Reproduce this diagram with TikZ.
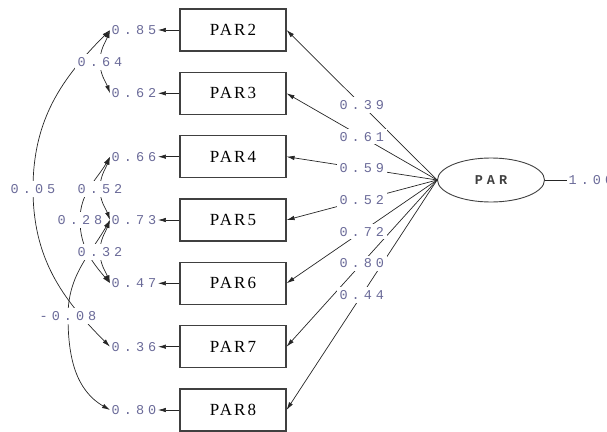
\documentclass[tikz,border=0pt]{standalone}
\usepackage{fontspec}
\usetikzlibrary{arrows.meta,shapes.geometric}
\newfontfamily\numfont[LetterSpace=30]{Liberation Mono}
\newfontfamily\boxfont[LetterSpace=12]{Liberation Serif}
\definecolor{numcol}{rgb}{0.42,0.42,0.6}
\tikzset{
  obs/.style={draw=black!75, line width=1.1pt, minimum width=106pt, minimum height=42pt, inner sep=0pt, font=\boxfont\fontsize{17}{19}\selectfont},
  err/.style={text=numcol, font=\numfont\fontsize{13.5}{15}\selectfont, inner sep=1.5pt},
  lab/.style={err, fill=white, inner sep=3pt},
  tipa/.tip={Latex[length=8pt,width=4.5pt]},
  arr/.style={-tipa, line width=0.7pt, draw=black!85},
  cov/.style={tipa-tipa, line width=0.7pt, draw=black!85},
}
\begin{document}
\begin{tikzpicture}[x=1pt,y=-1pt]
\useasboundingbox (0,0) rectangle (607,431);
% observed variables and error variances
\foreach \n/\y/\e in {2/30/0.85,3/93.3/0.62,4/156.7/0.66,5/220/0.73,6/283.3/0.47,7/346.7/0.36,8/410/0.80}{
  \node[obs] (P\n) at (233,\y) {PAR\n};
  \node[err] (E\n) at (134,\y) {\e};
  \draw[arr] (P\n.west) -- (E\n.east);
}
% latent variable
\node[ellipse, draw=black!75, line width=0.9pt, minimum width=107pt, minimum height=44pt, inner sep=0pt,
      font=\numfont\fontsize{13.5}{15}\selectfont\bfseries, text=black!75] (F) at (491,180) {PAR};
\node[err, anchor=west] (V) at (567,180) {1.00};
\draw[line width=0.7pt, draw=black!85] (F.east) -- (V.west);
% loadings
\foreach \n in {2,...,8}{
  \draw[arr] (F.west) -- (P\n.east);
}
\path (F.west) -- node[lab]{0.39} (P2.east);
\path (F.west) -- node[lab]{0.61} (P3.east);
\path (F.west) -- node[lab]{0.59} (P4.east);
\path (F.west) -- node[lab]{0.52} (P5.east);
\path (F.west) -- node[lab]{0.72} (P6.east);
\path (F.west) -- node[lab]{0.80} (P7.east);
\path (F.west) -- node[lab]{0.44} (P8.east);
% error covariances
\coordinate (c64) at (100,62);
\coordinate (c05) at (33,189);
\coordinate (c52) at (100,189);
\coordinate (c28) at (80,220);
\coordinate (c32) at (100,252);
\coordinate (c08) at (68,316);
\draw[cov] (E2.west) to[out=250,in=90] (c64) to[out=-90,in=110] (E3.west);
\draw[cov] (E2.west) to[out=225,in=90] (c05) to[out=-90,in=135] (E7.west);
\draw[cov] (E4.west) to[out=250,in=90] (c52) to[out=-90,in=110] (E5.west);
\draw[cov] (E4.west) to[out=240,in=90] (c28) to[out=-90,in=130] (E6.west);
\draw[cov] (E5.west) to[out=250,in=90] (c32) to[out=-90,in=110] (E6.west);
\draw[cov] (E5.west) to[out=240,in=90] (c08) to[out=-90,in=150] (E8.west);
\node[lab] (L64) at (c64) {0.64};
\node[lab] (L05) at (c05) {0.05};
\node[lab] (L52) at (c52) {0.52};
\node[lab, inner xsep=1pt] (L28) at (c28) {0.28};
\node[lab] (L32) at (c32) {0.32};
\node[lab] (L08) at (c08) {-0.08};
\end{tikzpicture}
\end{document}
